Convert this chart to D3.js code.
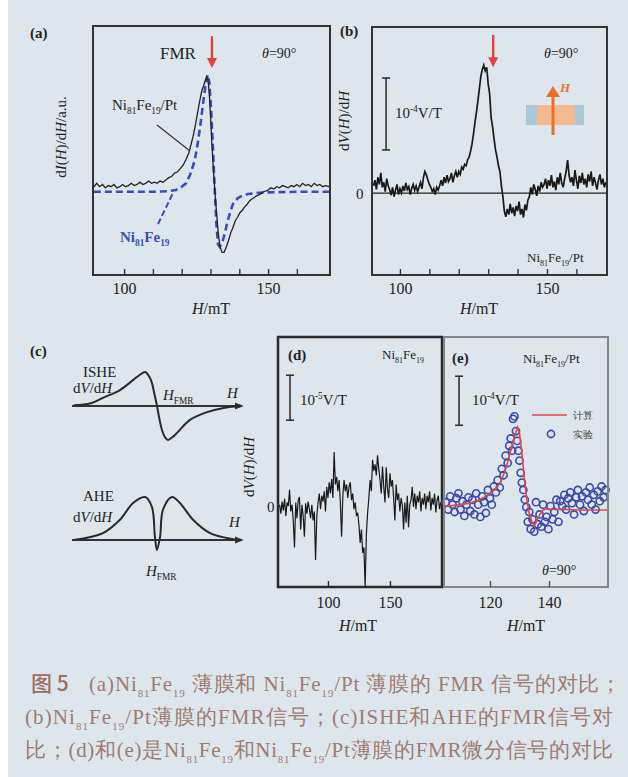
<!DOCTYPE html>
<html>
<head>
<meta charset="utf-8">
<script src="https://cdnjs.cloudflare.com/ajax/libs/d3/7.8.5/d3.min.js"></script>
<style>
  body { margin: 0; background: #fff; }
  svg text { font-family: "Liberation Serif", "DejaVu Serif", serif; fill: #222; }
</style>
</head>
<body>
<div id="chart"></div>
<script>
// ---- data ----
// (a) dI(H)/dH, a.u. (Ni81Fe19/Pt peak = 1), pairs [H (mT), value]
const fmrPtA = [
  [89.5,0.03],[90.5,0.06],[91.5,0.03],[92.5,0.05],[93.5,0.02],[94.5,0.04],[95.5,0.03],[96.5,0.05],
  [97.5,0.02],[98.5,0.03],[99.5,0.05],[100.5,0.03],[101.5,0.04],[102.5,0.06],[103.5,0.04],[104.5,0.05],
  [105.5,0.07],[106.5,0.05],[107.5,0.06],[108.5,0.08],[109.5,0.06],[110.5,0.07],[111.5,0.06],[112.5,0.08],
  [113.5,0.07],[114.5,0.09],[115.5,0.11],[116.5,0.12],[117.5,0.15],[118.5,0.16],[119.5,0.19],[120.5,0.22],
  [121.5,0.27],[122.5,0.33],[123.2,0.40],[124,0.48],[124.8,0.58],[125.5,0.68],[126.2,0.78],[127,0.88],
  [127.6,0.92],[128.2,0.97],[128.7,1.0],[129.2,0.96],[129.6,0.85],[130,0.66],[130.4,0.45],[130.9,0.22],
  [131.5,0.0],[132.1,-0.2],[132.7,-0.38],[133.3,-0.5],[134,-0.55],[134.7,-0.55],[135.4,-0.51],[136.2,-0.45],
  [137,-0.38],[137.8,-0.33],[138.6,-0.27],[139.4,-0.24],[140.2,-0.2],[141,-0.18],[141.8,-0.15],[142.6,-0.13],
  [143.4,-0.1],[144.2,-0.08],[145,-0.07],[146,-0.05],[147,-0.04],[148,-0.02],[149,-0.01],[150,0.0],
  [151,0.02],[152,0.01],[153,0.03],[154,0.02],[155,0.04],[156,0.03],[157,0.02],[158,0.04],[159,0.03],
  [160,0.05],[161,0.03],[162,0.06],[163,0.04],[164,0.05],[165,0.03],[166,0.06],[167,0.04],[168,0.05],
  [169,0.03],[170,0.04],[171.3,0.03]
];
const fmrPyA = [
  [89.5,-0.015],[100,-0.015],[110,-0.015],[115,-0.01],[118,0.0],[120,0.03],[121.5,0.06],[123,0.14],
  [124.5,0.26],[125.5,0.4],[126.5,0.58],[127.5,0.78],[128.3,0.93],[129,1.02],[129.6,0.95],[130.2,0.72],
  [130.8,0.4],[131.4,0.05],[132,-0.28],[132.6,-0.48],[133.2,-0.5],[134,-0.47],[135,-0.38],[136,-0.27],
  [137,-0.18],[138,-0.11],[139.5,-0.07],[141,-0.05],[143,-0.035],[146,-0.025],[150,-0.02],[160,-0.015],
  [171.3,-0.015]
];
const ticksA = [100, 110, 120, 130, 140, 150, 160];
const labelsA = [100, 150];

// (b) dV(H)/dH in 1e-4 V/T, sampled every 0.5 mT from 91 mT
const startB = 91, stepB = 0.5;
const signalB = [
  0.10,0.18,0.05,0.22,0.12,0.28,0.08,0.15,0.02,0.20,0.10,0.05,-0.03,0.08,-0.05,0.04,0.12,-0.02,0.06,0.00,
  0.10,0.03,0.14,0.05,0.09,-0.02,0.07,0.12,0.04,0.10,0.02,0.08,0.15,0.06,
  0.22,0.30,0.25,0.18,0.12,0.08,
  0.02,0.06,-0.02,0.08,0.04,0.10,
  0.18,0.10,0.22,0.14,0.25,0.16,0.20,0.28,0.15,0.24,0.30,0.22,
  0.30,0.26,0.36,0.33,0.40,0.38,0.46,0.50,0.58,0.68,0.82,0.98,
  1.12,1.28,1.45,1.62,1.72,1.78,1.70,1.75,1.52,1.38,
  1.05,0.92,0.75,0.60,0.50,0.38,0.30,0.10,-0.05,-0.25,
  -0.33,-0.22,-0.30,-0.15,-0.28,-0.20,-0.32,-0.18,-0.25,-0.12,-0.30,-0.22,-0.34,-0.16,-0.24,-0.10,
  -0.05,0.08,-0.02,0.12,0.05,-0.04,0.10,0.02,0.15,0.08,
  0.12,0.20,0.06,0.18,0.10,0.25,0.08,0.16,0.04,0.22,0.12,0.28,0.14,0.08,0.20,0.30,0.46,0.25,0.15,0.22,
  0.10,0.32,0.18,0.06,0.24,0.14,0.28,0.12,0.20,0.08,0.26,0.16,0.30,0.10,0.22,0.14,0.05,0.18,0.26,0.12,
  0.20,0.08,0.15
];
const ticksB = [100, 110, 120, 130, 140, 150, 160];
const labelsB = [100, 150];

// (c) schematic line shapes, pairs [H - H_FMR (a.u.), signal]
const isheShape = [
  [-4.9,0.02],[-3.9,0.08],[-3.18,0.24],[-2.18,0.47],[-1.41,0.76],[-1.0,0.92],[-0.7,1.0],[-0.45,0.86],
  [-0.3,0.68],[-0.15,0.35],[0,0],[0.15,-0.4],[0.3,-0.72],[0.5,-0.94],[0.65,-1.0],[0.9,-0.92],
  [1.18,-0.79],[1.94,-0.41],[2.94,-0.18],[4.0,-0.05],[4.9,-0.01]
];
const aheShape = [
  [-4.9,0.0],[-3.18,0.16],[-2.18,0.47],[-1.41,0.86],[-0.7,1.0],[-0.3,0.77],[-0.12,0.07],[0,-0.23],
  [0.18,0.07],[0.35,0.7],[0.88,1.0],[1.35,0.86],[2.12,0.47],[3.12,0.16],[4.47,0.02],[4.9,0.0]
];

// (d) dV(H)/dH in 1e-5 V/T, Ni81Fe19, sampled every 1 mT from 61 mT
const startD = 61, stepD = 1;
const signalD = [
  0.05,-0.15,0.12,-0.08,0.18,-0.20,0.10,0.02,0.38,-0.10,
  0.05,-0.30,-0.90,0.10,-0.25,0.15,0.22,-0.50,0.05,-0.20,
  -0.66,0.08,-0.15,0.12,-0.05,-0.25,0.05,-0.30,-0.10,-1.18,
  -0.20,0.10,0.30,-0.05,0.25,0.12,0.35,-0.10,0.45,0.20,
  0.55,0.30,0.62,0.20,1.22,0.50,0.67,0.35,0.60,0.10,
  -0.66,0.25,0.60,0.35,0.50,0.20,0.45,0.55,0.15,0.30,
  -0.05,0.10,-0.20,-0.13,-0.40,-0.80,-0.50,-1.02,-0.90,-1.78,
  -0.60,-0.13,0.20,0.60,0.35,1.05,0.80,0.95,0.70,1.15,
  0.85,0.60,0.30,0.90,0.45,0.10,0.88,0.40,0.20,0.75,
  0.45,0.60,0.20,-0.30,0.50,0.15,0.30,-0.10,0.20,0.05,
  -0.50,0.10,-0.35,0.25,-0.45,0.05,0.15,0.45,0.00,0.30,
  -0.05,0.25,0.10,0.35,-0.10,0.20,0.05,0.30,-0.05,0.25,
  0.10,0.35,-0.08,0.20,0.05,0.30,-0.12,0.15,0.25,-0.05,0.10
];
const ticksD = [100, 150];

// (e) Ni81Fe19/Pt, 1e-4 V/T: calculated line and measured points, pairs [H, value]
const calcE = [
  [104.6,0.02],[107,0.03],[110,0.05],[113,0.08],[116,0.14],[118,0.2],[120,0.28],[122,0.38],[123.5,0.5],
  [125,0.72],[126,0.92],[127,1.15],[128,1.38],[129.3,1.63],[130,1.5],[130.8,1.1],[131.6,0.6],[132.4,0.2],
  [133.2,-0.1],[134.2,-0.3],[135,-0.38],[136,-0.26],[137,-0.14],[138,-0.06],[139,-0.04],[142,-0.05],
  [146,-0.05],[150,-0.06],[155,-0.06],[159.9,-0.06]
];
const measE = [
  [105.0,0.10],[105.8,-0.05],[106.5,0.22],[107.3,0.05],[108.0,-0.10],[108.6,0.18],[109.3,0.28],[110.0,-0.05],
  [110.6,0.12],[111.3,-0.18],[112.0,0.05],[112.7,0.20],[113.3,-0.08],[114.0,0.15],[114.7,-0.15],[115.3,0.28],
  [116.0,0.05],[116.7,-0.20],[117.3,0.22],[118.0,0.10],[118.6,-0.12],[119.3,0.35],[120.0,0.18],[120.6,0.05],
  [121.3,0.42],[122.0,0.30],[122.6,0.55],[123.3,0.40],[124.0,0.78],[124.6,0.65],[125.3,1.05],[126.0,0.90],
  [126.5,1.25],[127.0,1.40],[127.5,1.15],[127.8,1.80],[128.3,1.85],[128.8,1.55],[129.2,1.35],[129.6,1.15],
  [130.0,0.95],[130.4,0.70],[130.8,0.50],[131.3,0.35],[131.8,0.15],[132.3,0.0],[132.8,-0.30],[133.3,-0.10],
  [133.8,-0.45],[134.4,-0.25],[135.0,-0.50],[135.6,0.10],[136.2,-0.35],[136.8,-0.15],[137.4,-0.40],[138.0,0.05],
  [138.6,-0.30],[139.2,-0.20],[139.8,-0.45],[140.5,0.02],[141.2,-0.25],[141.8,-0.10],[142.5,0.15],[143.2,-0.30],
  [143.8,0.12],[144.5,0.02],[145.2,0.25],[145.8,-0.05],[146.5,0.18],[147.2,0.30],[147.8,0.08],[148.5,-0.15],
  [149.2,0.20],[149.8,0.35],[150.5,0.05],[151.2,0.22],[151.8,-0.08],[152.5,0.30],[153.2,0.15],[153.8,0.40],
  [154.5,0.05],[155.2,0.25],[155.8,-0.05],[156.5,0.32],[157.2,0.12],[157.8,0.42],[158.5,0.20],[159.2,0.35]
];
const ticksE = [120, 140];
const legendE = ["计算", "实验"];

const niFe = ["Ni", ["81", "sub"], "Fe", ["19", "sub"]];
const niFePt = niFe.concat(["/Pt"]);

// ---- drawing ----
const W = 628, H = 777;
const svg = d3.select("#chart").append("svg").attr("width", W).attr("height", H);
svg.append("rect").attr("x", 8).attr("y", 0).attr("width", W - 8).attr("height", H).attr("fill", "#dde6ec");

const defs = svg.append("defs");
defs.append("marker").attr("id", "axarrow").attr("viewBox", "0 0 10 10")
  .attr("refX", 8).attr("refY", 5).attr("markerWidth", 4).attr("markerHeight", 4).attr("orient", "auto")
  .append("path").attr("d", "M0,1L10,5L0,9Z").attr("fill", "#333");

function rich(g, x, y, size, parts, attrs = {}, subScale = 0.62) {
  const t = g.append("text").attr("x", x).attr("y", y).attr("font-size", size);
  Object.entries(attrs).forEach(([k, v]) => t.attr(k, v));
  let shift = 0;
  parts.forEach(p => {
    const [s, kind] = Array.isArray(p) ? p : [p];
    const target = kind === "sub" ? size * 0.28 : kind === "sup" ? -size * 0.38 : 0;
    const ts = t.append("tspan").text(s).attr("class", kind || null);
    if (target !== shift) ts.attr("dy", target - shift);
    shift = target;
    if (kind === "sub" || kind === "sup") ts.attr("font-size", size * subScale);
    if (kind === "i") ts.attr("font-style", "italic");
  });
  return t;
}

function makePanel(box, xDomain, yDomain) {
  const x = d3.scaleLinear().domain(xDomain).range([box.x0, box.x1]);
  const y = d3.scaleLinear().domain(yDomain).range([box.y1, box.y0]);
  return { box, x, y, g: svg.append("g") };
}

function frame(p, color, width) {
  p.g.append("rect").attr("x", p.box.x0).attr("y", p.box.y0)
    .attr("width", p.box.x1 - p.box.x0).attr("height", p.box.y1 - p.box.y0)
    .attr("fill", "none").attr("stroke", color).attr("stroke-width", width);
}

function bottomAxis(p, ticks, labels, pad, color) {
  const ax = p.g.append("g").attr("transform", "translate(0," + p.box.y1 + ")")
    .call(d3.axisBottom(p.x).tickValues(ticks).tickSizeInner(-6).tickSizeOuter(0).tickPadding(pad)
      .tickFormat(d => labels.includes(d) ? d : ""));
  ax.select(".domain").remove();
  ax.attr("font-family", null).attr("font-size", 16);
  ax.selectAll("line").attr("stroke", color).attr("stroke-width", 1.4);
  ax.selectAll("text").attr("fill", "#222");
}

function scaleBar(p, h, v0, v1) {
  const x = p.x(h), y0 = p.y(v0), y1 = p.y(v1);
  const g = p.g.append("g").attr("stroke", "#333").attr("stroke-width", 1.6);
  g.append("line").attr("x1", x).attr("x2", x).attr("y1", y0).attr("y2", y1);
  g.append("line").attr("x1", x - 4).attr("x2", x + 4).attr("y1", y0).attr("y2", y0);
  g.append("line").attr("x1", x - 4).attr("x2", x + 4).attr("y1", y1).attr("y2", y1);
}

function downArrow(p, h, vTop, vTip, color) {
  const x = p.x(h), yt = p.y(vTop), yp = p.y(vTip);
  p.g.append("line").attr("x1", x).attr("x2", x).attr("y1", yt).attr("y2", yp - 8)
    .attr("stroke", color).attr("stroke-width", 2.4);
  p.g.append("path").attr("d", `M${x - 5},${yp - 10}L${x + 5},${yp - 10}L${x},${yp}Z`).attr("fill", color);
}

const lineOf = p => d3.line().x(d => p.x(d[0])).y(d => p.y(d[1]));
const theta = ["", ["θ", "i"], "=90°"];
const serifItalicH = [["H", "i"], "/mT"];

// ---------- (a) ----------
const pa = makePanel({ x0: 93, x1: 330, y0: 26, y1: 275 }, [89.2, 171.5], [-0.75, 1.45]);
pa.g.append("path").datum(fmrPyA).attr("d", lineOf(pa)).attr("fill", "none")
  .attr("stroke", "#3a4db3").attr("stroke-width", 2.6).attr("stroke-dasharray", "7,4");
pa.g.append("path").datum(fmrPtA).attr("d", lineOf(pa)).attr("fill", "none")
  .attr("stroke", "#222").attr("stroke-width", 1.3);
frame(pa, "#333", 2);
bottomAxis(pa, ticksA, labelsA, 8, "#333");
downArrow(pa, 130.5, 1.36, 1.08, "#e0413c");
rich(pa.g, 160, 59, 17, ["FMR"]);
rich(pa.g, 262, 58, 14, theta);
rich(pa.g, 112, 110, 15, niFePt);
pa.g.append("line").attr("x1", 157).attr("y1", 125).attr("x2", 190).attr("y2", 151).attr("stroke", "#333").attr("stroke-width", 1.2);
rich(pa.g, 120, 242, 15, niFe, { "font-weight": "bold" }).selectAll("tspan").attr("fill", "#3a4db3");
pa.g.append("line").attr("x1", 158).attr("y1", 224).attr("x2", 173).attr("y2", 193)
  .attr("stroke", "#3a4db3").attr("stroke-width", 2).attr("stroke-dasharray", "6,3");
rich(svg, 30, 38, 15, ["(a)"], { "font-weight": "bold" });
rich(svg, 0, 0, 15, ["d", ["I", "i"], "(", ["H", "i"], ")/d", ["H", "i"], "/a.u."],
  { "text-anchor": "middle", transform: "translate(66,137) rotate(-90)" });
rich(svg, 211, 314, 16, serifItalicH, { "text-anchor": "middle" });

// ---------- (b) ----------
const pb = makePanel({ x0: 372, x1: 607, y0: 27, y1: 275 }, [90.5, 170.4], [-1.14, 2.31]);
pb.g.append("line").attr("x1", pb.box.x0).attr("x2", pb.box.x1).attr("y1", pb.y(0)).attr("y2", pb.y(0))
  .attr("stroke", "#222").attr("stroke-width", 1.2);
pb.g.append("path").datum(signalB.map((v, i) => [startB + i * stepB, v])).attr("d", lineOf(pb))
  .attr("fill", "none").attr("stroke", "#1a1a1a").attr("stroke-width", 1.7);
frame(pb, "#333", 2);
bottomAxis(pb, ticksB, labelsB, 8, "#333");
downArrow(pb, 131.7, 2.2, 1.75, "#e0413c");
rich(pb.g, 544, 58, 14, theta);
scaleBar(pb, 95.3, 0.6, 1.6);
rich(pb.g, 395, 118, 15, ["10", ["-4", "sup"], "V/T"]);
rich(pb.g, 356, 199, 15, ["0"]);
rich(pb.g, 527, 262, 13, niFePt);
// inset: film stack with field arrow
pb.g.append("rect").attr("x", 526).attr("y", 105).attr("width", 58).attr("height", 20).attr("fill", "#a9c9d6");
pb.g.append("rect").attr("x", 537).attr("y", 105).attr("width", 38).attr("height", 20).attr("fill", "#f3b98f");
pb.g.append("line").attr("x1", 553).attr("x2", 553).attr("y1", 135).attr("y2", 95)
  .attr("stroke", "#e8702a").attr("stroke-width", 3);
pb.g.append("path").attr("d", "M546,97L560,97L553,86Z").attr("fill", "#e8702a");
rich(pb.g, 560, 92, 13, [["H", "i"]], { "font-weight": "bold" }).selectAll("tspan").attr("fill", "#e8702a");
rich(svg, 340, 36, 15, ["(b)"], { "font-weight": "bold" });
rich(svg, 0, 0, 15, ["d", ["V", "i"], "(", ["H", "i"], ")/d", ["H", "i"]],
  { "text-anchor": "middle", transform: "translate(349,121) rotate(-90)" });
rich(svg, 479, 314, 16, serifItalicH, { "text-anchor": "middle" });

// ---------- (c) ----------
const gc = svg.append("g");
const cx = d3.scaleLinear().domain([-5, 5]).range([72, 242]);
const cyI = d3.scaleLinear().domain([-1, 1]).range([440, 372]);
const cyA = d3.scaleLinear().domain([0, 1]).range([540, 497]);
[[cyI, isheShape], [cyA, aheShape]].forEach(([cy, shape]) => {
  gc.append("line").attr("x1", cx(-5)).attr("x2", cx(5)).attr("y1", cy(0)).attr("y2", cy(0))
    .attr("stroke", "#333").attr("stroke-width", 2.2).attr("marker-end", "url(#axarrow)");
  gc.append("path").datum(shape)
    .attr("d", d3.line().x(d => cx(d[0])).y(d => cy(d[1])).curve(d3.curveCatmullRom))
    .attr("fill", "none").attr("stroke", "#2a2a2a").attr("stroke-width", 2);
});
rich(gc, 30, 356, 15, ["(c)"], { "font-weight": "bold" });
rich(gc, 83, 377, 15, ["ISHE"]);
rich(gc, 73, 393, 15, ["d", ["V", "i"], "/d", ["H", "i"]]);
rich(gc, 163, 400, 15, [["H", "i"], ["FMR", "sub"]]);
rich(gc, 227, 398, 15, [["H", "i"]]);
rich(gc, 83, 501, 15, ["AHE"]);
rich(gc, 73, 522, 15, ["d", ["V", "i"], "/d", ["H", "i"]]);
rich(gc, 229, 527, 15, [["H", "i"]]);
rich(gc, 146, 576, 15, [["H", "i"], ["FMR", "sub"]]);

// ---------- (d) ----------
const pd = makePanel({ x0: 278, x1: 442, y0: 337, y1: 587 }, [59.7, 192], [-1.78, 3.78]);
pd.g.append("path").datum(signalD.map((v, i) => [startD + i * stepD, v])).attr("d", lineOf(pd))
  .attr("fill", "none").attr("stroke", "#1a1a1a").attr("stroke-width", 1.2);
frame(pd, "#2a2a2a", 2.5);
bottomAxis(pd, ticksD, ticksD, 10, "#2a2a2a");
rich(pd.g, 288, 360, 15, ["(d)"], { "font-weight": "bold" });
rich(pd.g, 382, 359, 13, niFe);
scaleBar(pd, 69.4, 1.93, 2.93);
rich(pd.g, 300, 405, 15, ["10", ["-5", "sup"], "V/T"]);
rich(svg, 267, 512, 15, ["0"]);
rich(svg, 0, 0, 15, ["d", ["V", "i"], "(", ["H", "i"], ")/d", ["H", "i"]],
  { "text-anchor": "middle", transform: "translate(254,467) rotate(-90)" });
rich(svg, 358, 631, 16, serifItalicH, { "text-anchor": "middle" });

// ---------- (e) ----------
const pe = makePanel({ x0: 444, x1: 608, y0: 337, y1: 587 }, [104.4, 160], [-1.63, 3.47]);
pe.g.append("g").selectAll("circle").data(measE).enter().append("circle")
  .attr("cx", d => pe.x(d[0])).attr("cy", d => pe.y(d[1])).attr("r", 3.6)
  .attr("fill", "none").attr("stroke", "#3b4aa9").attr("stroke-width", 1.6);
pe.g.append("path").datum(calcE).attr("d", lineOf(pe)).attr("fill", "none")
  .attr("stroke", "#e04848").attr("stroke-width", 1.6);
frame(pe, "#858585", 2);
bottomAxis(pe, ticksE, ticksE, 10, "#555");
rich(pe.g, 452, 363, 15, ["(e)"], { "font-weight": "bold" });
rich(pe.g, 523, 363, 13, niFePt);
scaleBar(pe, 109.5, 1.67, 2.67);
rich(pe.g, 472, 405, 15, ["10", ["-4", "sup"], "V/T"]);
rich(pe.g, 542, 575, 14, theta);
pe.g.append("line").attr("x1", 532).attr("x2", 567).attr("y1", 415).attr("y2", 415)
  .attr("stroke", "#e04848").attr("stroke-width", 1.6);
pe.g.append("circle").attr("cx", 551).attr("cy", 434).attr("r", 3.6)
  .attr("fill", "none").attr("stroke", "#3b4aa9").attr("stroke-width", 1.6);
legendE.forEach((s, i) => rich(pe.g, 573, 419 + i * 19, 10, [s], { "font-family": "'Noto Sans CJK SC', sans-serif" })
  .style("fill", "#444"));
rich(svg, 526, 631, 16, serifItalicH, { "text-anchor": "middle" });

// ---------- caption ----------
const capColor = "#a07a70";
const capFont = "'Liberation Serif', 'Noto Sans CJK SC', serif";
function captionLine(x, y, right, parts) {
  const t = rich(svg, x, y, 21, parts, { "font-family": capFont }, 0.52);
  t.selectAll("tspan").attr("fill", capColor);
  const len = t.node().getComputedTextLength();
  const n = t.text().length;
  t.attr("letter-spacing", ((right - x - len) / n).toFixed(2));
}
svg.append("text").attr("x", 31).attr("y", 691).attr("font-size", 21).attr("font-weight", 500)
  .style("font-family", "'Noto Sans CJK SC', sans-serif").style("fill", "#9c6e62").text("图 5");
captionLine(89, 691, 622, ["(a)"].concat(niFe, [" 薄膜和 "], niFePt, [" 薄膜的 FMR 信号的对比；"]));
captionLine(25, 724, 614, ["(b)"].concat(niFePt, ["薄膜的FMR信号；(c)ISHE和AHE的FMR信号对"]));
captionLine(25, 757, 614, ["比；(d)和(e)是"].concat(niFe, ["和"], niFePt, ["薄膜的FMR微分信号的对比"]));
</script>
</body>
</html>
